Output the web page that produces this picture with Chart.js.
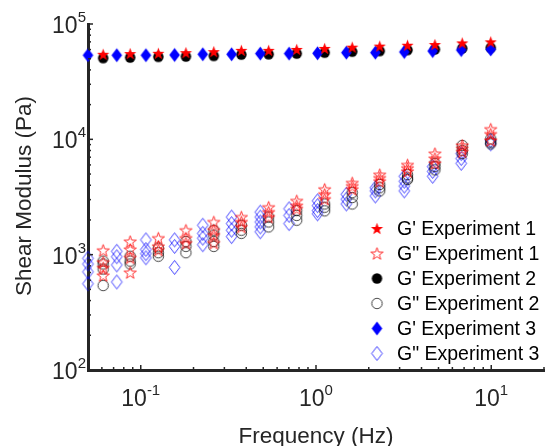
<!DOCTYPE html>
<html>
<head>
<meta charset="utf-8">
<script src="https://cdn.jsdelivr.net/npm/chart.js@4.4.1/dist/chart.umd.min.js"></script>
<style>
  html, body { margin: 0; padding: 0; background: #fff; }
  canvas { display: block; }
</style>
</head>
<body>
<canvas id="myChart" width="550" height="446"></canvas>
<script>
// Frequencies (Hz)
const freqExp12 = [0.061, 0.087, 0.126, 0.181, 0.261, 0.375, 0.537, 0.776, 1.12, 1.61, 2.31, 3.33, 4.77, 6.83, 9.93];
const freqExp3 = [0.050, 0.073, 0.107, 0.156, 0.226, 0.330, 0.481, 0.702, 1.02, 1.49, 2.18, 3.19, 4.63, 6.74, 9.93];

// Storage modulus G' (Pa), one value per frequency
const gPrimeExp1 = [54600, 55400, 55700, 56400, 57600, 59100, 59100, 60200, 61400, 63000, 64300, 65500, 66400, 68600, 70000];
const gPrimeExp2 = [50600, 51200, 51900, 52200, 52900, 54300, 54600, 55400, 56400, 57600, 58300, 59500, 60200, 61400, 62200];
const gPrimeExp3 = [53600, 53600, 53600, 53900, 54600, 54600, 55400, 55400, 55700, 56400, 56400, 57200, 58300, 59500, 60200];

// Loss modulus G" (Pa), several repeat readings per frequency
const gDoublePrimeExp1 = [
  [1090, 860, 770, 660], [1300, 1110, 940, 700], [1390, 1180, 1100], [1630, 1390, 1260],
  [1920, 1630, 1480, 1260], [2120, 1920, 1740], [2580, 2340, 2120], [2930, 2660, 2500],
  [3690, 3340, 3030], [4190, 3930, 3690], [4940, 4620, 4330], [6000, 5620, 5270],
  [7520, 6820, 6190], [8860, 8300, 7800], [12250, 11100, 9770]
];
const gDoublePrimeExp2 = [
  [880, 830, 750, 540], [970, 880, 830], [1140, 1040, 970], [1300, 1180, 1040],
  [1630, 1480, 1300, 1180], [1800, 1630, 1530], [2120, 1920, 1740], [2410, 2190, 1990],
  [2750, 2580, 2400], [3450, 3130, 2750], [4060, 3800, 3570], [4940, 4620, 4480],
  [6190, 5800, 5440], [8860, 8040, 7520], [10080, 9450, 9140]
];
const gDoublePrimeExp3 = [
  [930, 830, 710, 560], [1070, 960, 815, 580], [1345, 1110, 1020, 940], [1345, 1180, 775],
  [1800, 1530, 1390, 1220], [2120, 1860, 1630, 1435], [2340, 2120, 1920, 1740, 1580], [2500, 2190, 1860],
  [2930, 2660, 2410, 2260], [3340, 3030, 2750], [3800, 3570, 3230], [4780, 4330, 3930, 3570],
  [5800, 5270, 4780], [7520, 6820, 6190], [9770, 9140]
];

const seriesNames = ["G' Experiment 1", 'G" Experiment 1', "G' Experiment 2", 'G" Experiment 2', "G' Experiment 3", 'G" Experiment 3'];

// tick labels: 10^exp
const xTickValues = [0.1, 1, 10];
const xTickExp = ['-1', '0', '1'];
const yTickValues = [100, 1000, 10000, 100000];
const yTickExp = ['2', '3', '4', '5'];

const FONT = '"Liberation Sans", Arial, Helvetica, sans-serif';
const AXIS_COLOR = '#262626';

// marker glyphs drawn once on small canvases
function makeMarker(shape, filled, color) {
  const c = document.createElement('canvas');
  c.width = 17; c.height = 17;
  const g = c.getContext('2d');
  const cx = 8.5, cy = 8.5;
  g.beginPath();
  if (shape === 'star') {
    const R = 6.4, r = R * 0.4;
    for (let i = 0; i < 10; i++) {
      const rad = i % 2 === 0 ? R : r;
      const a = -Math.PI / 2 + i * Math.PI / 5;
      const px = cx + rad * Math.cos(a), py = cy + 0.6 + rad * Math.sin(a);
      if (i === 0) g.moveTo(px, py); else g.lineTo(px, py);
    }
    g.closePath();
  } else if (shape === 'circle') {
    g.arc(cx, cy, 5.2, 0, Math.PI * 2);
  } else {
    g.moveTo(cx, cy - 7); g.lineTo(cx + 5.3, cy); g.lineTo(cx, cy + 7); g.lineTo(cx - 5.3, cy);
    g.closePath();
  }
  if (filled) {
    g.fillStyle = color; g.fill();
  } else {
    g.strokeStyle = color; g.lineWidth = 1; g.stroke();
  }
  return c;
}

const markers = [
  makeMarker('star', true, '#ff0000'),
  makeMarker('star', false, 'rgba(255,0,0,0.8)'),
  makeMarker('circle', true, '#000000'),
  makeMarker('circle', false, 'rgba(0,0,0,0.75)'),
  makeMarker('diamond', true, '#0000ff'),
  makeMarker('diamond', false, 'rgba(0,0,255,0.75)')
];

function pairs(freq, vals) {
  return freq.map((f, i) => ({ x: f, y: vals[i] }));
}
function repeatPairs(freq, groups) {
  const out = [];
  groups.forEach((grp, i) => grp.forEach(v => out.push({ x: freq[i], y: v })));
  return out;
}

const seriesData = [
  pairs(freqExp12, gPrimeExp1),
  repeatPairs(freqExp12, gDoublePrimeExp1),
  pairs(freqExp12, gPrimeExp2),
  repeatPairs(freqExp12, gDoublePrimeExp2),
  pairs(freqExp3, gPrimeExp3),
  repeatPairs(freqExp3, gDoublePrimeExp3)
];
const drawOrder = [0, 3, 2, 4, 1, 5];

function drawPower(ctx, exp, x, y, align) {
  ctx.font = '23px ' + FONT;
  const wb = ctx.measureText('10').width;
  ctx.font = '15px ' + FONT;
  const we = ctx.measureText(exp).width;
  const w = wb + we;
  const left = align === 'center' ? x - w / 2 : x - w;
  ctx.textAlign = 'left';
  ctx.textBaseline = 'alphabetic';
  ctx.font = '23px ' + FONT;
  ctx.fillText('10', left, y);
  ctx.font = '15px ' + FONT;
  ctx.fillText(exp, left + wb, y - 11);
}

const axisDecor = {
  id: 'axisDecor',
  afterDraw(chart) {
    const ctx = chart.ctx;
    const xs = chart.scales.x, ys = chart.scales.y;
    const area = chart.chartArea;
    ctx.save();
    ctx.strokeStyle = AXIS_COLOR;
    ctx.lineWidth = 1.5;
    // inward tick marks
    for (let e = -2; e <= 1; e++) {
      for (let m = 1; m <= 9; m++) {
        const v = m * Math.pow(10, e);
        if (v < xs.min * 1.001 || v > xs.max) continue;
        const px = xs.getPixelForValue(v);
        const len = m === 1 ? 5 : 3;
        ctx.beginPath(); ctx.moveTo(px, area.bottom); ctx.lineTo(px, area.bottom - len); ctx.stroke();
      }
    }
    for (let e = 2; e <= 5; e++) {
      for (let m = 1; m <= 9; m++) {
        const v = m * Math.pow(10, e);
        if (v <= ys.min * 1.001 || v > ys.max * 1.001) continue;
        const py = ys.getPixelForValue(v);
        const len = m === 1 ? 5 : 3;
        ctx.beginPath(); ctx.moveTo(area.left, py); ctx.lineTo(area.left + len, py); ctx.stroke();
      }
    }
    // tick labels
    ctx.fillStyle = AXIS_COLOR;
    xTickValues.forEach((v, i) => drawPower(ctx, xTickExp[i], xs.getPixelForValue(v), area.bottom + 36, 'center'));
    yTickValues.forEach((v, i) => drawPower(ctx, yTickExp[i], area.left - 2, ys.getPixelForValue(v) + 9, 'right'));
    // axis titles
    ctx.font = '22.5px ' + FONT;
    ctx.textAlign = 'center';
    ctx.textBaseline = 'alphabetic';
    ctx.fillText('Frequency (Hz)', (area.left + area.right) / 2, 443);
    ctx.save();
    ctx.translate(31, 196);
    ctx.rotate(-Math.PI / 2);
    ctx.fillText('Shear Modulus (Pa)', 0, 0);
    ctx.restore();
    // legend
    ctx.font = '19.5px ' + FONT;
    ctx.fillStyle = '#000';
    ctx.textAlign = 'left';
    ctx.textBaseline = 'middle';
    seriesNames.forEach((name, i) => {
      const y = 228.5 + i * 25;
      const mk = markers[i];
      ctx.drawImage(mk, 377 - mk.width / 2, y - mk.height / 2);
      ctx.fillText(name, 397, y + 1);
    });
    ctx.restore();
  }
};

const ctx = document.getElementById('myChart');

new Chart(ctx, {
  type: 'scatter',
  data: {
    datasets: seriesData.map((d, i) => ({
      label: seriesNames[i],
      data: d,
      pointStyle: markers[i],
      pointRadius: 5,
      pointHoverRadius: 5,
      order: drawOrder[i],
      clip: false
    }))
  },
  options: {
    responsive: false,
    animation: false,
    layout: { padding: { left: 80, top: 24, right: -3, bottom: 68 } },
    plugins: { legend: { display: false }, tooltip: { enabled: false } },
    scales: {
      x: {
        type: 'logarithmic',
        min: 0.05,
        max: 20,
        ticks: { display: false },
        grid: { display: false },
        border: { display: true, color: AXIS_COLOR, width: 3 }
      },
      y: {
        type: 'logarithmic',
        min: 100,
        max: 100000,
        ticks: { display: false },
        grid: { display: false },
        border: { display: true, color: AXIS_COLOR, width: 3 }
      }
    }
  },
  plugins: [axisDecor]
});
</script>
</body>
</html>
